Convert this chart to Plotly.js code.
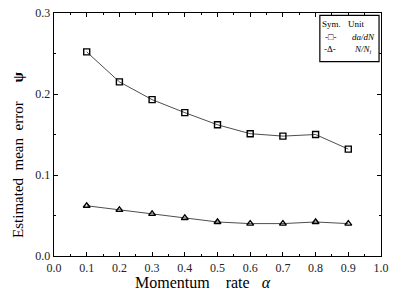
<!DOCTYPE html>
<html><head><meta charset="utf-8">
<script src="https://cdn.plot.ly/plotly-3.0.1.min.js"></script>
<style>body{margin:0;background:#fff}#c{width:394px;height:295px}</style>
</head><body><div id="c"></div>
<script>
var momentumRate = [0.1,0.2,0.3,0.4,0.5,0.6,0.7,0.8,0.9];
var errDaDN = [0.252,0.215,0.193,0.177,0.162,0.151,0.148,0.150,0.132];
var errNNi = [0.062,0.057,0.052,0.047,0.042,0.040,0.040,0.042,0.040];
var xTicks = [0,0.1,0.2,0.3,0.4,0.5,0.6,0.7,0.8,0.9,1.0];
var yTicks = [0,0.1,0.2,0.3];
var legendRows = [['Sym.','Unit'],['-□-','<i>da/dN</i>'],['-Δ-','<i>N/N<sub>i</sub></i>']];
var xTitle = 'Momentum&nbsp;&nbsp;&nbsp;&nbsp;rate&nbsp;&nbsp;&nbsp;<i>α</i>';
var yTitle = 'Estimated&nbsp;&nbsp;mean&nbsp;&nbsp;error&nbsp;&nbsp;&nbsp;&nbsp;&nbsp;<b>ψ</b>';

var F = 'Liberation Serif, Times New Roman, serif';
var traces = [
 {x:momentumRate,y:errDaDN,mode:'lines+markers',name:'da/dN',
  line:{color:'#000',width:0.7},marker:{symbol:'square-open',size:6,color:'#000',line:{width:1.4}}},
 {x:momentumRate,y:errNNi,mode:'lines+markers',name:'N/Ni',
  line:{color:'#000',width:0.7},marker:{symbol:'triangle-up-open',size:6,color:'#000',line:{width:1.4}}}
];
var axBase = {showgrid:false,zeroline:false,showline:true,linecolor:'#000',linewidth:1.3,
  mirror:'allticks',ticks:'inside',ticklen:4,tickwidth:1,tickcolor:'#000',
  tickfont:{family:F,size:12,color:'#222'}};
var ann = [];
var rowY = [0.955,0.9,0.85];
var colX = [[0.85,0.925],[0.845,0.945],[0.845,0.945]];
legendRows.forEach(function(r,i){
  ann.push({xref:'paper',yref:'paper',x:colX[i][0],y:rowY[i],text:r[0],showarrow:false,xanchor:'center',yanchor:'middle',font:{family:F,size:9}});
  ann.push({xref:'paper',yref:'paper',x:colX[i][1],y:rowY[i],text:r[1],showarrow:false,xanchor:'center',yanchor:'middle',font:{family:F,size:9}});
});
ann.push({xref:'paper',yref:'paper',x:0.456,y:-0.11,text:xTitle,showarrow:false,xanchor:'center',yanchor:'middle',font:{family:F,size:16}});
ann.push({xref:'paper',yref:'paper',x:-0.11,y:0.416,text:yTitle,textangle:-90,showarrow:false,xanchor:'center',yanchor:'middle',font:{family:F,size:15}});
var layout = {
 width:394,height:295,margin:{l:54,r:13,t:13,b:39},
 paper_bgcolor:'#fff',plot_bgcolor:'#fff',
 font:{family:F,color:'#000'},
 showlegend:false,
 xaxis:Object.assign({},axBase,{range:[0,1],tickvals:xTicks,ticktext:xTicks.map(function(v){return v.toFixed(1);}),
   minor:{dtick:0.05,ticks:'inside',ticklen:2,tickcolor:'#000'}}),
 yaxis:Object.assign({},axBase,{range:[0,0.3],tickvals:yTicks,ticktext:yTicks.map(function(v){return v.toFixed(1);}),
   minor:{dtick:0.05,ticks:'inside',ticklen:2,tickcolor:'#000'}}),
 shapes:[{type:'rect',xref:'paper',yref:'paper',x0:0.813,x1:0.994,y0:0.8,y1:0.99,line:{color:'#000',width:1.2},fillcolor:'#fff',layer:'above'}],
 annotations:ann
};
Plotly.newPlot('c',traces,layout,{staticPlot:true});
</script></body></html>
